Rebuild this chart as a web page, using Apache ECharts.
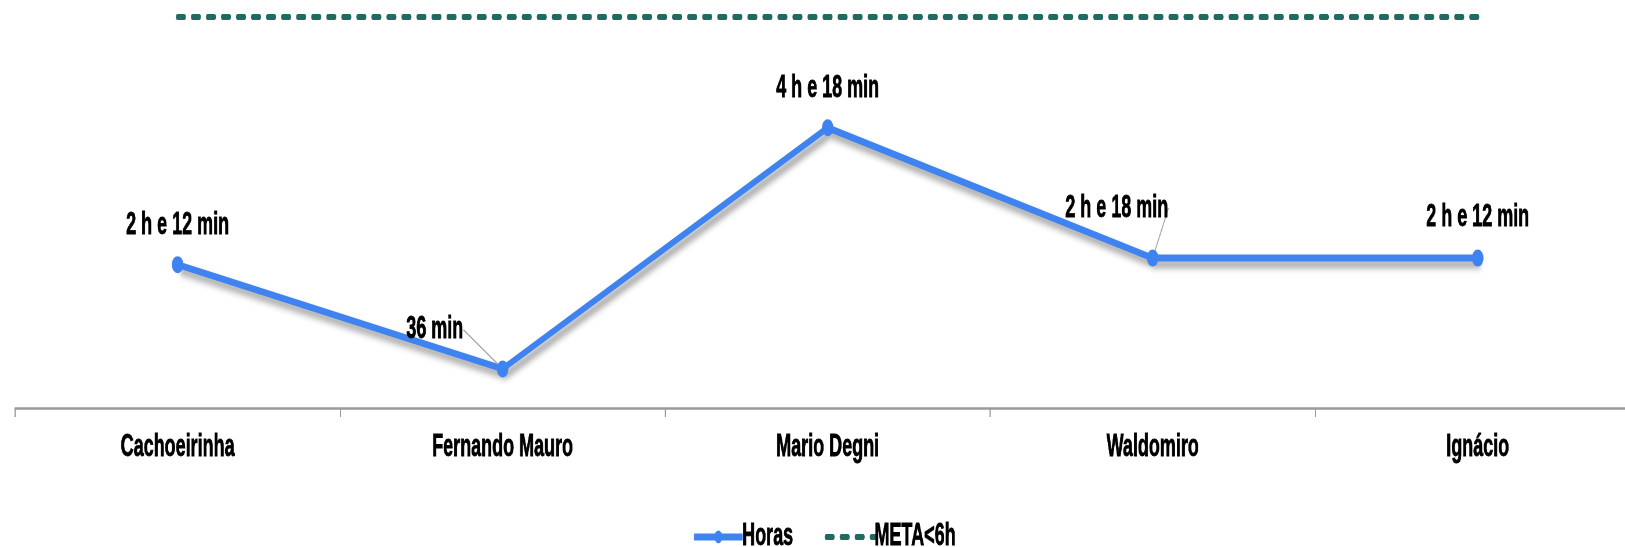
<!DOCTYPE html>
<html>
<head>
<meta charset="utf-8">
<script src="https://cdn.jsdelivr.net/npm/echarts@6/dist/echarts.min.js"></script>
<style>
  html, body { margin: 0; padding: 0; background: #ffffff; overflow: hidden; }
  #wrap { width: 1625px; height: 547px; overflow: hidden; position: relative; }
  /* the reference chart is horizontally compressed: draw wide, then squeeze */
  #chart { width: 2900px; height: 547px; transform: scaleX(0.58); transform-origin: 0 0; }
</style>
</head>
<body>
<div id="wrap"><div id="chart"></div></div>
<script>
// ---- data ----
const categories = ['Cachoeirinha', 'Fernando Mauro', 'Mario Degni', 'Waldomiro', 'Ignácio'];
const horas = [2.2, 0.6, 4.3, 2.3, 2.3];           // hours
const horasLabels = ['2 h e 12 min', '36 min', '4 h e 18 min', '2 h e 18 min', '2 h e 12 min'];
const meta = [6, 6, 6, 6, 6];
const seriesNames = ['Horas', 'META<6h'];

// ---- style ----
const FONT = '"Liberation Sans", Arial, sans-serif';
const labelShift = [[0, 0], [-117, 0], [0, 0], [-62, -11], [0, -2]];
const leader = [false, true, false, true, false];
const metaDash = [11.2, 14.73];

const textBase = {
  color: '#000000',
  fontFamily: FONT,
  fontWeight: 'bold',
  fontSize: 31,
  lineHeight: 31,
  textBorderColor: '#000000',
  textBorderWidth: 0.8
};

const chart = echarts.init(document.getElementById('chart'), null, { renderer: 'canvas' });

chart.setOption({
  animation: false,
  backgroundColor: '#ffffff',
  grid: { left: 26, top: 17, width: 2802, height: 391, containLabel: false },
  xAxis: {
    type: 'category',
    data: categories,
    boundaryGap: true,
    axisLine: { lineStyle: { color: '#9a9a9a', width: 2.5 } },
    axisTick: { show: true, length: 9, lineStyle: { color: '#9a9a9a', width: 2 } },
    axisLabel: Object.assign({ margin: 24 }, textBase),
    splitLine: { show: false }
  },
  yAxis: {
    type: 'value',
    min: 0,
    max: 6,
    show: false,
    splitLine: { show: false }
  },
  legend: {
    top: 516,
    left: 1188,
    itemGap: 54,
    itemWidth: 84,
    itemHeight: 16,
    textStyle: Object.assign({}, textBase, { padding: [0, 0, 0, -6] }),
    data: [
      { name: seriesNames[0], lineStyle: { width: 7 } },
      { name: seriesNames[1], itemStyle: { opacity: 0 }, lineStyle: { width: 6, type: metaDash, cap: 'round' } }
    ]
  },
  series: [
    {
      name: seriesNames[0],
      type: 'line',
      data: horas.map((v, i) => ({ value: v, labelLine: { show: leader[i] } })),
      symbol: 'circle',
      symbolSize: [20, 17],
      itemStyle: { color: '#3f83f0' },
      lineStyle: {
        color: '#3f83f0',
        width: 7,
        shadowColor: 'rgba(0,0,0,0.4)',
        shadowBlur: 7,
        shadowOffsetX: 5,
        shadowOffsetY: 6
      },
      label: Object.assign({
        show: true,
        position: 'top',
        distance: 15,
        formatter: (p) => horasLabels[p.dataIndex]
      }, textBase),
      labelLine: {
        show: true,
        lineStyle: { color: '#a0a0a0', width: 1.5 }
      },
      labelLayout: (p) => {
        const s = labelShift[p.dataIndex];
        return { dx: s[0], dy: s[1] };
      },
      z: 3
    },
    {
      name: seriesNames[1],
      type: 'line',
      data: meta,
      symbol: 'none',
      itemStyle: { color: '#1f6b62' },
      lineStyle: { color: '#1f6b62', width: 6, type: metaDash, cap: 'round' },
      z: 2
    }
  ]
});
</script>
</body>
</html>
